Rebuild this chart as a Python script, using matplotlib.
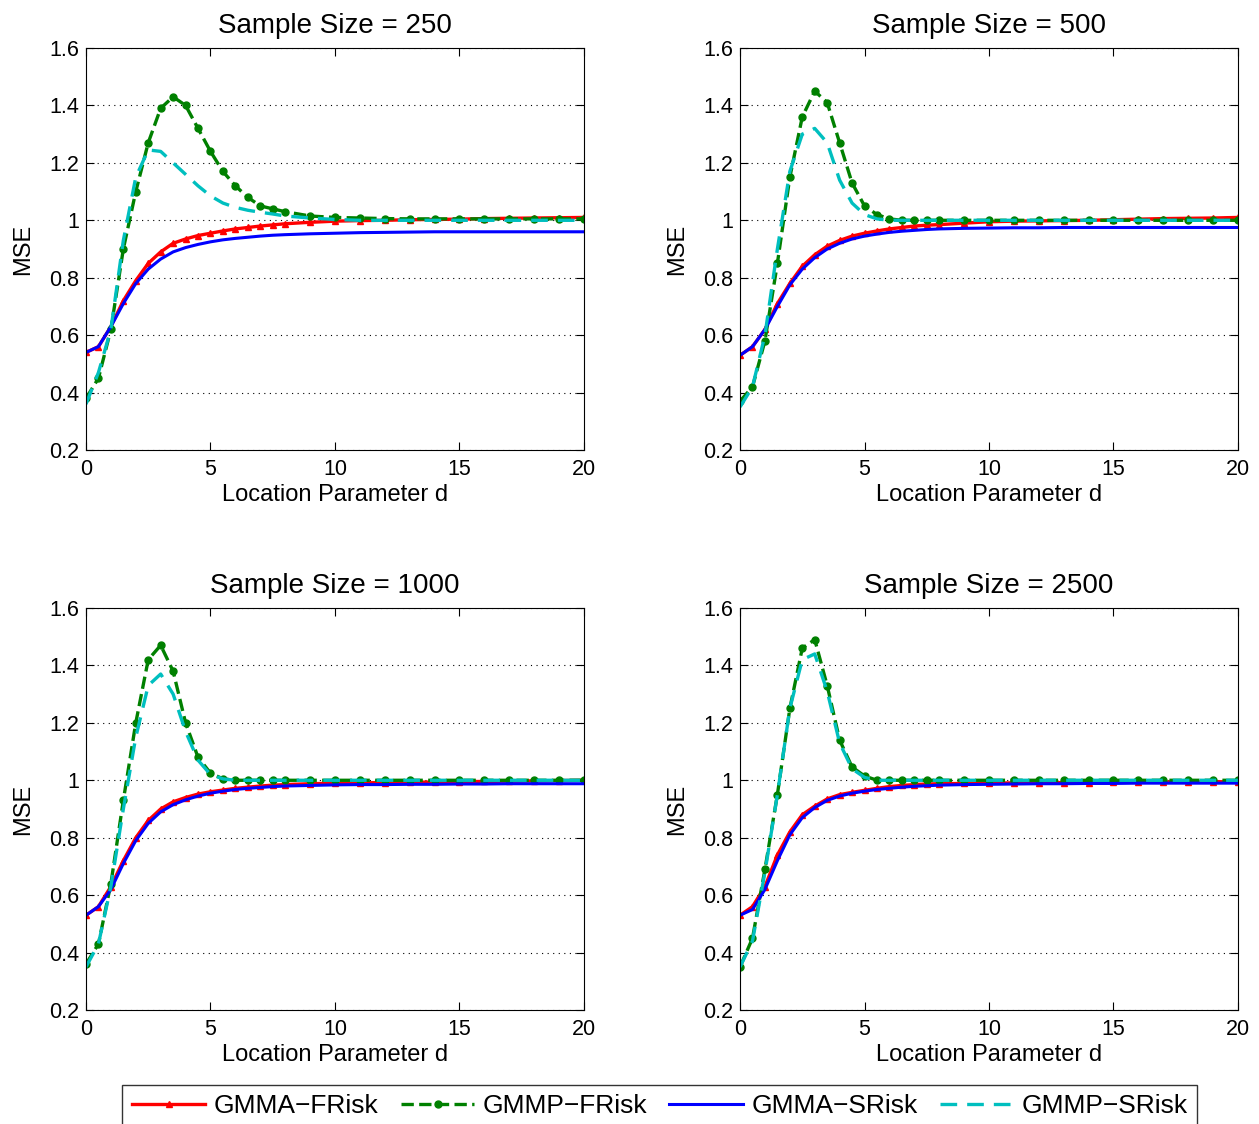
import numpy as np
import matplotlib.pyplot as plt
from matplotlib.ticker import FormatStrFormatter

plt.rcParams['font.family'] = ['Liberation Sans', 'DejaVu Sans']

# location parameter grid
d = [0, 0.5, 1, 1.5, 2, 2.5, 3, 3.5, 4, 4.5, 5, 5.5, 6, 6.5, 7, 7.5, 8,
     9, 10, 11, 12, 13, 14, 15, 16, 17, 18, 19, 20]

sizes = [250, 500, 1000, 2500]

# GMMA-FRisk
gmma_f_250 = [0.54, 0.56, 0.63, 0.72, 0.79, 0.85, 0.89, 0.92, 0.935, 0.947, 0.955, 0.963, 0.97, 0.975, 0.98, 0.984, 0.988,
              0.993, 0.997, 0.999, 1.0, 1.002, 1.003, 1.004, 1.006, 1.007, 1.008, 1.009, 1.01]
gmma_f_500 = [0.53, 0.56, 0.62, 0.71, 0.78, 0.84, 0.88, 0.91, 0.93, 0.945, 0.955, 0.963, 0.97, 0.975, 0.98, 0.983, 0.985,
              0.99, 0.995, 0.997, 0.998, 0.999, 1.0, 1.002, 1.004, 1.006, 1.007, 1.008, 1.01]
gmma_f_1000 = [0.53, 0.56, 0.63, 0.72, 0.8, 0.86, 0.9, 0.925, 0.94, 0.952, 0.96, 0.966, 0.972, 0.976, 0.98, 0.983, 0.985,
               0.988, 0.99, 0.991, 0.992, 0.993, 0.994, 0.995, 0.996, 0.997, 0.998, 0.999, 1.0]
gmma_f_2500 = [0.53, 0.56, 0.63, 0.74, 0.82, 0.88, 0.91, 0.935, 0.95, 0.958, 0.965, 0.972, 0.978, 0.982, 0.985, 0.987, 0.988,
               0.989, 0.99, 0.991, 0.991, 0.992, 0.992, 0.993, 0.993, 0.994, 0.994, 0.995, 0.995]

# GMMP-FRisk
gmmp_f_250 = [0.38, 0.45, 0.62, 0.9, 1.1, 1.27, 1.39, 1.43, 1.4, 1.32, 1.24, 1.17, 1.12, 1.08, 1.05, 1.04, 1.03,
              1.015, 1.01, 1.008, 1.006, 1.005, 1.005, 1.005, 1.005, 1.005, 1.005, 1.005, 1.005]
gmmp_f_500 = [0.37, 0.42, 0.58, 0.85, 1.15, 1.36, 1.45, 1.41, 1.27, 1.13, 1.05, 1.02, 1.005, 1.0, 1.0, 1.0, 1.0,
              1.0, 1.0, 1.0, 1.0, 1.0, 1.0, 1.0, 1.0, 1.0, 1.0, 1.0, 1.0]
gmmp_f_1000 = [0.36, 0.43, 0.64, 0.93, 1.2, 1.42, 1.47, 1.38, 1.2, 1.08, 1.025, 1.005, 1.0, 1.0, 1.0, 1.0, 1.0,
               1.0, 1.0, 1.0, 1.0, 1.0, 1.0, 1.0, 1.0, 1.0, 1.0, 1.0, 1.0]
gmmp_f_2500 = [0.35, 0.45, 0.69, 0.95, 1.25, 1.46, 1.49, 1.33, 1.14, 1.046, 1.015, 1.0, 1.0, 1.0, 1.0, 1.0, 1.0,
               1.0, 1.0, 1.0, 1.0, 1.0, 1.0, 1.0, 1.0, 1.0, 1.0, 1.0, 1.0]

# GMMA-SRisk
gmma_s_250 = [0.54, 0.56, 0.63, 0.71, 0.78, 0.83, 0.865, 0.89, 0.905, 0.916, 0.925, 0.932, 0.937, 0.941, 0.945, 0.948, 0.95,
              0.953, 0.955, 0.957, 0.958, 0.959, 0.96, 0.96, 0.96, 0.96, 0.96, 0.96, 0.96]
gmma_s_500 = [0.53, 0.56, 0.62, 0.7, 0.775, 0.83, 0.87, 0.9, 0.92, 0.935, 0.945, 0.952, 0.958, 0.962, 0.965, 0.968, 0.97,
              0.972, 0.973, 0.974, 0.974, 0.975, 0.975, 0.975, 0.975, 0.975, 0.975, 0.975, 0.975]
gmma_s_1000 = [0.53, 0.56, 0.62, 0.71, 0.79, 0.85, 0.89, 0.915, 0.932, 0.945, 0.955, 0.962, 0.968, 0.972, 0.975, 0.978, 0.98,
               0.982, 0.984, 0.985, 0.985, 0.986, 0.986, 0.987, 0.987, 0.988, 0.988, 0.988, 0.988]
gmma_s_2500 = [0.53, 0.55, 0.62, 0.72, 0.81, 0.87, 0.905, 0.93, 0.945, 0.955, 0.962, 0.968, 0.972, 0.976, 0.979, 0.981, 0.983,
               0.985, 0.986, 0.987, 0.988, 0.988, 0.989, 0.989, 0.99, 0.99, 0.99, 0.99, 0.99]

# GMMP-SRisk
gmmp_s_250 = [0.36, 0.47, 0.62, 0.93, 1.15, 1.245, 1.24, 1.2, 1.16, 1.12, 1.085, 1.06, 1.045, 1.035, 1.028, 1.022, 1.015,
              1.008, 1.003, 1.0, 1.0, 1.0, 1.0, 1.0, 1.0, 1.0, 1.0, 1.0, 1.0]
gmmp_s_500 = [0.35, 0.42, 0.6, 0.9, 1.17, 1.3, 1.32, 1.27, 1.14, 1.06, 1.02, 1.005, 1.0, 1.0, 1.0, 1.0, 1.0,
              1.0, 1.0, 1.0, 1.0, 1.0, 1.0, 1.0, 1.0, 1.0, 1.0, 1.0, 1.0]
gmmp_s_1000 = [0.35, 0.43, 0.63, 0.9, 1.15, 1.33, 1.37, 1.3, 1.17, 1.07, 1.02, 1.005, 1.0, 1.0, 1.0, 1.0, 1.0,
               1.0, 1.0, 1.0, 1.0, 1.0, 1.0, 1.0, 1.0, 1.0, 1.0, 1.0, 1.0]
gmmp_s_2500 = [0.35, 0.44, 0.68, 0.95, 1.25, 1.42, 1.44, 1.31, 1.13, 1.04, 1.01, 1.0, 1.0, 1.0, 1.0, 1.0, 1.0,
               1.0, 1.0, 1.0, 1.0, 1.0, 1.0, 1.0, 1.0, 1.0, 1.0, 1.0, 1.0]

gmma_f = [gmma_f_250, gmma_f_500, gmma_f_1000, gmma_f_2500]
gmmp_f = [gmmp_f_250, gmmp_f_500, gmmp_f_1000, gmmp_f_2500]
gmma_s = [gmma_s_250, gmma_s_500, gmma_s_1000, gmma_s_2500]
gmmp_s = [gmmp_s_250, gmmp_s_500, gmmp_s_1000, gmmp_s_2500]

fig = plt.figure(figsize=(12.59, 11.24), dpi=100)

lefts = [0.0683, 0.5878, 0.0683, 0.5878]
bottoms = [0.5996, 0.5996, 0.1014, 0.1014]

for i in range(4):
    ax = fig.add_axes([lefts[i], bottoms[i], 0.3955, 0.3577])
    ax.plot(d, gmma_f[i], color='red', lw=2.4, marker='^', ms=4, label='GMMA\u2212FRisk')
    ax.plot(d, gmmp_f[i], color='#008000', lw=2.4, ls='--', marker='o', ms=5, label='GMMP\u2212FRisk')
    ax.plot(d, gmma_s[i], color='blue', lw=2.2, label='GMMA\u2212SRisk')
    ax.plot(d, gmmp_s[i], color='#00bfbf', lw=2.4, ls=(0, (5, 3)), label='GMMP\u2212SRisk')

    ax.set_xlim(0, 20)
    ax.set_ylim(0.2, 1.6)
    ax.set_xticks([0, 5, 10, 15, 20])
    ax.set_yticks([0.2, 0.4, 0.6, 0.8, 1.0, 1.2, 1.4, 1.6])
    ax.yaxis.set_major_formatter(FormatStrFormatter('%g'))
    ax.tick_params(direction='in', top=True, right=True, labelsize=15.5, length=6)
    ax.tick_params(axis='x', pad=6.5)
    ax.tick_params(axis='y', pad=5)
    ax.yaxis.grid(True, color='black', ls=(0, (1, 4)), lw=0.8)
    for s in ax.spines.values():
        s.set_linewidth(0.8)
    ax.set_title('Sample Size = %d' % sizes[i], fontsize=20, pad=11)
    ax.set_xlabel('Location Parameter d', fontsize=17, labelpad=3)
    ax.set_ylabel('MSE', fontsize=17, labelpad=11)

handles, labels = ax.get_legend_handles_labels()
leg = fig.legend(handles, labels, loc='upper center', bbox_to_anchor=(0.524, 0.035),
                 ncol=4, fontsize=19, frameon=True, fancybox=False, borderaxespad=0,
                 handlelength=2.8, columnspacing=0.85, handletextpad=0.3, borderpad=0.35)
leg.get_frame().set_edgecolor('black')
leg.get_frame().set_linewidth(1.0)

fig.savefig('out.png', dpi=100)
